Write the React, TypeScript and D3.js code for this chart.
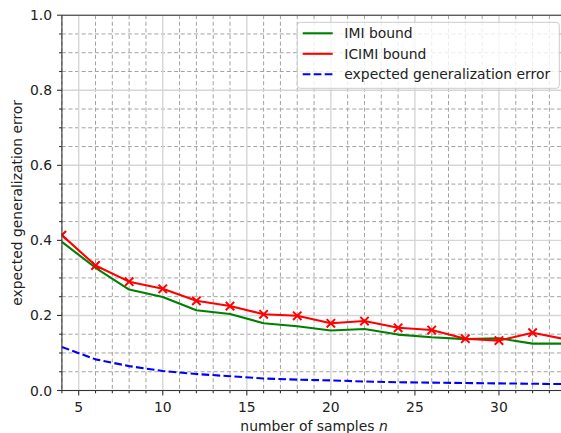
import React from "react";
import * as d3 from "d3";

// sample counts (even n only)
const samples = [4, 6, 8, 10, 12, 14, 16, 18, 20, 22, 24, 26, 28, 30, 32, 34];
const imiBound = [0.396, 0.327, 0.269, 0.249, 0.214, 0.204, 0.179, 0.171, 0.16, 0.164, 0.149, 0.142, 0.137, 0.139, 0.125, 0.125];
const icimiBound = [0.414, 0.333, 0.29, 0.271, 0.239, 0.225, 0.203, 0.199, 0.179, 0.185, 0.167, 0.161, 0.138, 0.133, 0.154, 0.136];
const expectedError = [0.116, 0.083, 0.065, 0.052, 0.044, 0.038, 0.032, 0.029, 0.027, 0.024, 0.022, 0.021, 0.02, 0.019, 0.018, 0.017];

const xTicks = [5, 10, 15, 20, 25, 30];
const yTicks = [0, 0.2, 0.4, 0.6, 0.8, 1.0];

const legendItems = [
  { label: "IMI bound", color: "#008000", dash: "" },
  { label: "ICIMI bound", color: "#ff0000", dash: "" },
  { label: "expected generalization error", color: "#0000ff", dash: "7.7,3.3" },
];

const W = 561;
const H = 433;
const left = 61.9;
const top = 15.2;
const bottom = 390.5;
const FONT = "DejaVu Sans, sans-serif";
const FS = 13.9;

export default function App() {
  const x = d3.scaleLinear().domain([4, 34]).range([left, left + 30 * 16.81]);
  const y = d3.scaleLinear().domain([0, 1]).range([bottom, top]);
  const right = x(34);

  // minor ticks exclude majors
  const xMinor = d3.range(4, 35, 1).filter((v) => v % 5 !== 0);
  const yMinor = d3.range(1, 20).map((i) => i * 0.05).filter((_, i) => (i + 1) % 4 !== 0);

  const line = d3
    .line<number>()
    .x((_, i) => x(samples[i]))
    .y((d) => y(d));

  const m = 4.2; // half size of x marker

  return (
    <svg
      width={W}
      height={H}
      style={{ position: "fixed", left: 0, top: 0, background: "#fff" }}
      fontFamily={FONT}
    >
      <defs>
        <clipPath id="plot">
          <rect x={left} y={top} width={right - left} height={bottom - top} />
        </clipPath>
      </defs>

      {/* minor grid, dashed */}
      <g stroke="#a2a2a2" strokeWidth={1} strokeDasharray="4,2.6">
        {xMinor.map((v) => (
          <line key={"xm" + v} x1={x(v)} x2={x(v)} y1={top} y2={bottom} />
        ))}
        {yMinor.map((v) => (
          <line key={"ym" + v} x1={left} x2={right} y1={y(v)} y2={y(v)} />
        ))}
      </g>

      {/* major grid */}
      <g stroke="#d6d6d6" strokeWidth={1.4}>
        {xTicks.map((v) => (
          <line key={"xg" + v} x1={x(v)} x2={x(v)} y1={top} y2={bottom} />
        ))}
        {yTicks.map((v) => (
          <line key={"yg" + v} x1={left} x2={right} y1={y(v)} y2={y(v)} />
        ))}
      </g>

      <g clipPath="url(#plot)">
        <g fill="none" strokeWidth={2.1} strokeLinejoin="round">
          <path d={line(imiBound) || ""} stroke="#008000" />
          <path d={line(icimiBound) || ""} stroke="#ff0000" />
          <path d={line(expectedError) || ""} stroke="#0000ff" strokeDasharray="7.7,3.3" />
        </g>
        <g stroke="#ff0000" strokeWidth={2}>
          {icimiBound.map((v, i) => {
            const cx = x(samples[i]);
            const cy = y(v);
            return (
              <g key={"mk" + i}>
                <line x1={cx - m} y1={cy - m} x2={cx + m} y2={cy + m} />
                <line x1={cx - m} y1={cy + m} x2={cx + m} y2={cy - m} />
              </g>
            );
          })}
        </g>
      </g>

      {/* spines */}
      <g stroke="#333" strokeWidth={1.1} fill="none">
        <line x1={left} x2={left} y1={top} y2={bottom} />
        <line x1={left} x2={right} y1={bottom} y2={bottom} />
        <line x1={left} x2={right} y1={top} y2={top} />
        <line x1={right} x2={right} y1={top} y2={bottom} />
      </g>

      {/* ticks */}
      <g stroke="#333" strokeWidth={1.1}>
        {xTicks.map((v) => (
          <line key={"xt" + v} x1={x(v)} x2={x(v)} y1={bottom} y2={bottom + 4.9} />
        ))}
        {xMinor.map((v) => (
          <line key={"xmt" + v} x1={x(v)} x2={x(v)} y1={bottom} y2={bottom + 2.8} />
        ))}
        {yTicks.map((v) => (
          <line key={"yt" + v} x1={left - 4.9} x2={left} y1={y(v)} y2={y(v)} />
        ))}
        {yMinor.map((v) => (
          <line key={"ymt" + v} x1={left - 2.8} x2={left} y1={y(v)} y2={y(v)} />
        ))}
      </g>

      {/* tick labels */}
      <g fontSize={FS} fill="#222">
        {xTicks.map((v) => (
          <text key={"xl" + v} x={x(v)} y={412} textAnchor="middle">
            {v}
          </text>
        ))}
        {yTicks.map((v) => (
          <text key={"yl" + v} x={left - 9.8} y={y(v) + 5} textAnchor="end">
            {d3.format(".1f")(v)}
          </text>
        ))}
      </g>

      {/* axis labels */}
      <text x={(left + right) / 2} y={431} textAnchor="middle" fontSize={FS} fill="#222">
        number of samples <tspan fontStyle="italic">n</tspan>
      </text>
      <text
        transform={`translate(22,${(top + bottom) / 2}) rotate(-90)`}
        textAnchor="middle"
        fontSize={FS}
        fill="#222"
      >
        expected generalization error
      </text>

      {/* legend */}
      <g>
        <rect
          x={297.3}
          y={22.3}
          width={262}
          height={66}
          rx={3}
          fill="#fff"
          fillOpacity={0.8}
          stroke="#cccccc"
          strokeWidth={1}
        />
        {legendItems.map((it, i) => {
          const ly = 33.3 + i * 20.5;
          return (
            <g key={it.label}>
              <line
                x1={302.7}
                x2={332.7}
                y1={ly}
                y2={ly}
                stroke={it.color}
                strokeWidth={2.1}
                strokeDasharray={it.dash || undefined}
              />
              <text x={344.3} y={ly + 5} fontSize={FS} fill="#222">
                {it.label}
              </text>
            </g>
          );
        })}
      </g>
    </svg>
  );
}
